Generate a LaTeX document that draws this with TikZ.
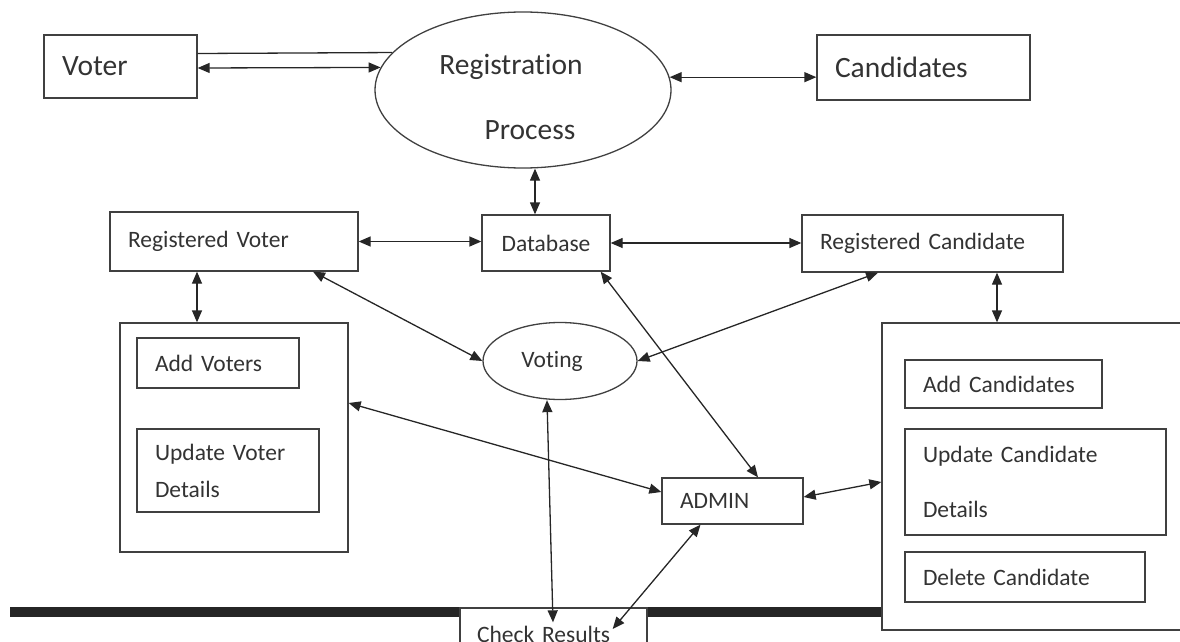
\documentclass[tikz,border=0pt]{standalone}
\usepackage{fontspec}
\setmainfont{Carlito}[Ligatures=NoCommon]
\usetikzlibrary{shapes.geometric,arrows.meta}

\tikzset{
  box/.style={draw=black!75, line width=1.3pt, inner sep=0pt, text=black!80,
    font=\fontsize{23.5}{37}\selectfont},
  lbox/.style={box, inner xsep=18pt, align=left, text width=#1},
  bigbox/.style={lbox=#1, font=\fontsize{29.5}{35}\selectfont},
  proc/.style={box, ellipse},
  link/.style={line width=1.3pt, draw=black!85},
  dbl/.style={link, >={Triangle[length=12pt,width=10pt]}, <->},
}

\begin{document}
\begin{tikzpicture}[x=1pt,y=-1pt]
\clip (0,0) rectangle (1180,642);
% top row
\node[bigbox=117pt, minimum height=63pt] (voter) at (120.5,66.5) {Voter};
\node[proc, minimum width=296pt, minimum height=156pt, align=center,
  font=\fontsize{29.5}{35}\selectfont] (regproc) at (523,90)
  {\rule{0pt}{34pt}Registration\hspace*{24pt}\\[30pt]\hspace*{14pt}Process};
\node[bigbox=177pt, minimum height=65pt] (cand) at (923.5,67.5) {Candidates};
% middle row
\node[lbox=212pt, minimum height=59pt] (rv) at (234,241.5) {Registered Voter};
\node[box, minimum width=128pt, minimum height=56pt] (db) at (546,243) {Database};
\node[lbox=225pt, minimum height=57pt] (rc) at (932.5,243.5) {Registered Candidate};
% panels
\node[box, minimum width=228pt, minimum height=229pt] (lp) at (234,437.5) {};
\node[lbox=126pt, minimum height=50pt] (addv) at (218,363) {Add Voters};
\node[lbox=146pt, minimum height=83pt] (updv) at (228,470.5) {Update Voter\\Details};
\node[box, minimum width=308pt, minimum height=307pt] (rp) at (1036,476.5) {};
\node[lbox=161pt, minimum height=48pt] (addc) at (1003.5,384) {Add Candidates};
\node[lbox=225pt, minimum height=106pt] (updc) at (1035.5,482) {Update Candidate\\[18pt]Details};
\node[lbox=204pt, minimum height=50pt] (delc) at (1025,577) {Delete Candidate};
% centre
\node[proc, minimum width=154pt, minimum height=77pt] (voting) at (560,361) {Voting\hspace*{16pt}};
\node[lbox=105pt, minimum height=46pt] (admin) at (732.5,501) {ADMIN};
\node[lbox=153pt, inner xsep=17pt, minimum height=52pt] (check) at (553.5,634) {Check Results};
% thick rule
\coordinate (barL) at (10,607);
\fill[black!85] (barL) rectangle ([yshift=-10pt]check.north west);
\fill[black!85] ([yshift=-10pt]check.north east) rectangle (rp.west |- barL);
% connectors
\draw[link] ([yshift=13pt]voter.east) -- (regproc.164);
\draw[dbl] ([yshift=-1.5pt]voter.east) -- (regproc.171);
\draw[dbl] (regproc.5) -- (regproc.5 -| cand.west);
\draw[dbl] ([xshift=-11pt]db.north) -- ([xshift=-11pt]db.north |- regproc.south);
\draw[dbl] (rv.east) -- (rv.east -| db.west);
\draw[dbl] (db.east) -- (db.east -| rc.west);
\draw[dbl] ([xshift=-37pt]rv.south) -- ([xshift=-37pt]rv.south |- lp.north);
\draw[dbl] ([xshift=64.5pt]rc.south) -- ([xshift=64.5pt]rc.south |- rp.north);
\draw[dbl] ([xshift=79pt]rv.south) -- (voting.west);
\draw[dbl] ([xshift=-54.5pt]rc.south) -- (voting.east);
\draw[dbl] ([xshift=-10pt]db.south east) -- ([xshift=25.5pt]admin.north);
\draw[dbl] ([yshift=34.5pt]lp.east) -- ([yshift=9pt]admin.west);
\draw[dbl] ([xshift=-13pt]voting.south) -- ([xshift=-0.5pt,yshift=-15pt]check.north);
\draw[dbl] ([xshift=-32pt]admin.south) -- ([xshift=-35pt,yshift=5pt]check.east);
\draw[dbl] ([yshift=4pt]admin.east) -- ([yshift=-5.5pt]rp.west);
\end{tikzpicture}
\end{document}
